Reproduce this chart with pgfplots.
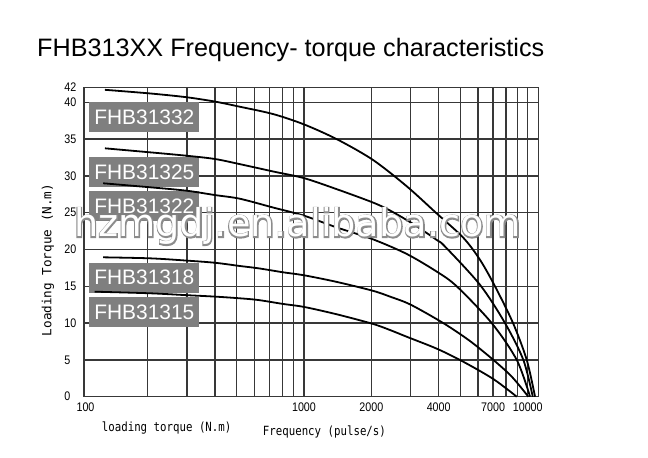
\documentclass[border=0pt]{standalone}
\usepackage{fontspec}
\setmainfont{Liberation Sans}
\newfontfamily\ticknarrow[FakeStretch=0.86]{Liberation Sans}
\newfontfamily\monofont{DejaVu Sans Mono}
\newfontfamily\mononarrow[FakeStretch=0.85]{DejaVu Sans Mono}
\newfontfamily\wmfont{DejaVu Sans}
\newfontfamily\wmfontbold[FakeBold=6]{DejaVu Sans}
\usepackage{pgfplots}
\pgfplotsset{compat=1.18}
\definecolor{gridc}{HTML}{383838}
\definecolor{boxc}{HTML}{7F7F7F}
\begin{document}
\begin{tikzpicture}[x=1bp,y=1bp]
\path[use as bounding box] (0,0) rectangle (648,-458);
\node[anchor=base west, inner sep=0, font=\fontsize{25.3}{27}\selectfont] at (37,-57) {FHB313XX Frequency- torque characteristics};
\begin{axis}[
  at={(84bp,-87.6bp)}, anchor=north west,
  width=454.3bp, height=309.1bp, scale only axis,
  xmode=log, xmin=104, xmax=11150, ymin=0, ymax=42,
  axis line style={gridc, line width=1.4bp},
  grid=both,
  major grid style={gridc, line width=1.4bp},
  minor grid style={gridc, line width=1.4bp},
  xtick={1000,2000,4000,7000,10000},
  xticklabels={1000,2000,4000,7000,10000},
  minor xtick={200,300,400,500,600,700,800,900,3000,5000,6000,8000,9000},
  extra x ticks={104}, extra x tick labels={100},
  extra x tick style={grid=none, xticklabel style={xshift=1.5bp}},
  ytick={0,5,10,15,20,25,30,35,40,42},
  major tick length=0pt, minor tick length=0pt,
  tick style={draw=none},
  ticklabel style={font=\ticknarrow\fontsize{12.5}{13}\selectfont, text=black},
  xticklabel style={yshift=-2.5bp},
  yticklabel style={anchor=west, xshift=-23.2bp},
  /pgf/number format/assume math mode=true,
  clip=false,
]
\node[fill=boxc, text=white, minimum width=110bp, minimum height=30bp, inner sep=0pt, font=\fontsize{21}{21}\selectfont] at (rel axis cs:0.1327,0.9039) {FHB31332};
\node[fill=boxc, text=white, minimum width=110bp, minimum height=30bp, inner sep=0pt, font=\fontsize{21}{21}\selectfont] at (rel axis cs:0.1327,0.7260) {FHB31325};
\node[fill=boxc, text=white, minimum width=110bp, minimum height=30bp, inner sep=0pt, font=\fontsize{21}{21}\selectfont] at (rel axis cs:0.1327,0.6160) {FHB31322};
\node[fill=boxc, text=white, minimum width=110bp, minimum height=30bp, inner sep=0pt, font=\fontsize{21}{21}\selectfont] at (rel axis cs:0.1327,0.3850) {FHB31318};
\node[fill=boxc, text=white, minimum width=110bp, minimum height=30bp, inner sep=0pt, font=\fontsize{21}{21}\selectfont] at (rel axis cs:0.1327,0.2731) {FHB31315};
% FHB31332
\addplot[black, line width=1.8bp, smooth, tension=0.5] coordinates {
(129,41.7)(206,41.2)(297,40.7)(400,40.1)(517,39.4)(729,38.4)(1000,37.0)(1400,35.0)(2028,32.2)(2877,28.6)(3920,24.9)(5153,21.6)(6120,18.6)(7141,15.0)(8597,10.0)(9897,5.0)(10780,0)};
% FHB31325
\addplot[black, line width=1.8bp, smooth, tension=0.5] coordinates {
(129,33.75)(206,33.2)(297,32.75)(400,32.3)(517,31.6)(729,30.6)(1000,29.7)(1400,28.2)(2028,26.4)(2424,25.3)(3065,23.5)(3920,21.3)(4270,20.4)(6120,15.2)(7917,10)(9557,5)(10530,0)};
% FHB31322
\addplot[black, line width=1.8bp, smooth, tension=0.5] coordinates {
(126.7,29.0)(206,28.45)(297,28.0)(400,27.4)(517,26.9)(729,25.7)(1000,24.6)(1400,23.0)(2028,21.4)(2877,19.4)(3920,17.0)(4815,15)(6905,10)(8930,5)(10240,0)};
% FHB31318
\addplot[black, line width=1.8bp, smooth, tension=0.5] coordinates {
(126.7,18.94)(206,18.8)(297,18.5)(400,18.2)(517,17.76)(625,17.45)(808,16.9)(1000,16.5)(1400,15.6)(2028,14.4)(2424,13.6)(3000,12.5)(4195,10)(5500,7.6)(7020,5)(8500,2.7)(10062,0)};
% FHB31315
\addplot[black, line width=1.8bp, smooth, tension=0.5] coordinates {
(116,14.27)(206,14.05)(297,13.8)(400,13.6)(517,13.37)(625,13.14)(808,12.6)(1000,12.2)(1400,11.2)(2028,9.9)(2424,9.06)(2877,8.15)(3940,6.5)(5153,4.75)(7020,2.4)(8930,0)};
\end{axis}
\node[rotate=90, inner sep=0, font=\monofont\fontsize{12.7}{13}\selectfont] at (48,-260) {Loading Torque (N.m)};
\node[anchor=west, inner sep=0, font=\mononarrow\fontsize{12.7}{13}\selectfont] at (101.7,-428.3) {loading torque (N.m)};
\node[anchor=west, inner sep=0, font=\mononarrow\fontsize{12.7}{13}\selectfont] at (262.7,-431.7) {Frequency (pulse/s)};
\node[anchor=base, inner sep=0, text=black!45, font=\wmfontbold\fontsize{38.4}{39}\selectfont] at (297.5,-237) {hzmgdj.en.alibaba.com};
\node[anchor=base, inner sep=0, text=white, font=\wmfont\fontsize{38.4}{39}\selectfont] at (297.5,-237) {hzmgdj.en.alibaba.com};
\end{tikzpicture}
\end{document}
